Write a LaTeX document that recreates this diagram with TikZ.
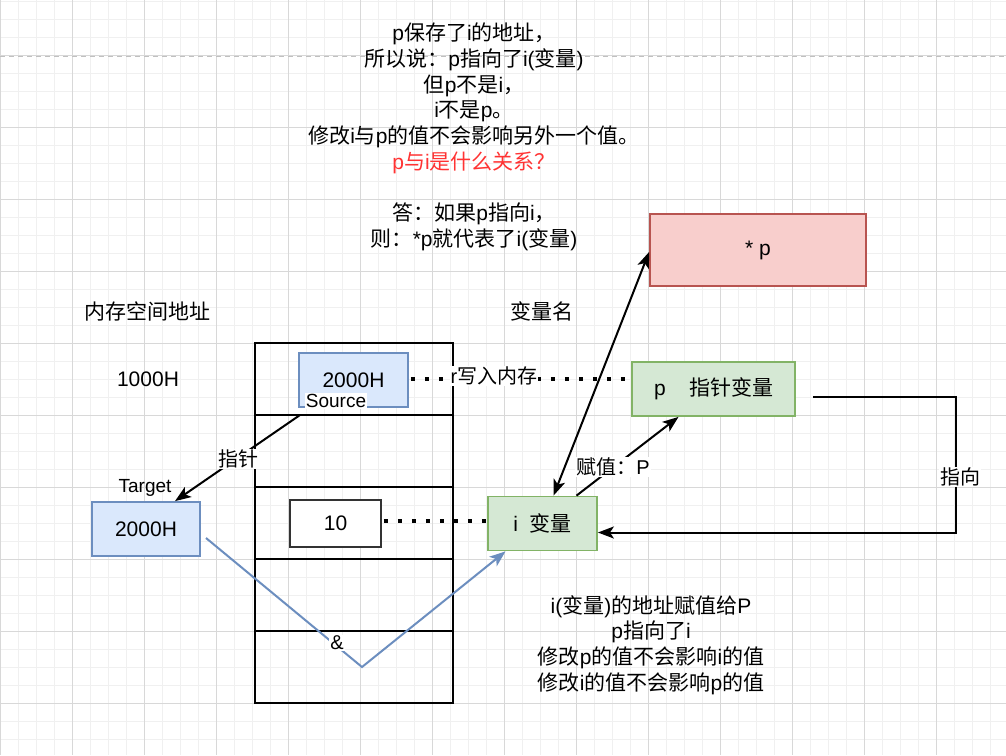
\documentclass[tikz,border=0pt]{standalone}
\usepackage{fontspec}
\setmainfont{Liberation Sans}
\newfontfamily\cjk{Noto Sans CJK SC}
\newcommand\zh[1]{{\cjk #1}}
\usetikzlibrary{arrows.meta,calc}
\definecolor{bluefill}{HTML}{DAE8FC}
\definecolor{bluedraw}{HTML}{6C8EBF}
\definecolor{greenfill}{HTML}{D5E8D4}
\definecolor{greendraw}{HTML}{82B366}
\definecolor{redfill}{HTML}{F8CECC}
\definecolor{reddraw}{HTML}{B85450}
\definecolor{gminorc}{HTML}{F0F0F0}
\definecolor{gmajorc}{HTML}{D8D8D8}
\definecolor{pagedash}{HTML}{C0C0C0}
\definecolor{qred}{HTML}{FF3333}
\definecolor{tenborder}{HTML}{333333}
\begin{document}
\begin{tikzpicture}[x=1pt,y=-1pt,
  txt/.style={font=\fontsize{21}{25.75}\selectfont, inner sep=0pt},
  small/.style={font=\fontsize{19}{23}\selectfont, inner sep=0pt},
  cell/.style={draw=black, line width=2.2pt, minimum width=198pt, minimum height=72pt, inner sep=0pt},
  bluebox/.style={draw=bluedraw, fill=bluefill, line width=1.8pt, inner sep=0pt, minimum width=109pt, minimum height=54pt, font=\fontsize{21}{25}\selectfont},
  greenbox/.style={draw=greendraw, fill=greenfill, line width=1.8pt, inner sep=0pt, minimum height=54pt, font=\fontsize{21}{25}\selectfont},
  lbl/.style={fill=white, inner sep=1pt, font=\fontsize{20}{24}\selectfont},
  conn/.style={draw=black, line width=2pt},
  tip/.style={-{Stealth[length=16pt,width=12pt,inset=4pt]}},
  dots/.style={draw=black, line width=4pt, dash pattern=on 4pt off 10pt}
]
\useasboundingbox (0,0) rectangle (1006,755);
\fill[white] (0,0) rectangle (1006,755);
% grid
\foreach \i in {0,...,56} \draw[gminorc, line width=1pt] (\i*18,0) -- (\i*18,755);
\foreach \j in {0,...,42} \draw[gminorc, line width=1pt] (0,1+\j*18) -- (1006,1+\j*18);
\foreach \i in {0,...,14} \draw[gmajorc, line width=1pt] (\i*72,0) -- (\i*72,755);
\foreach \j in {0,...,9} \draw[gmajorc, line width=1pt] (0,55+\j*72) -- (1006,55+\j*72);
\coordinate (pl) at (0,56);
\coordinate (pr) at (1006,56);
\draw[pagedash, line width=1pt, dash pattern=on 5pt off 4pt] (pl) -- (pr);

% top text
\node[txt, align=center] (top) at (474,137) {%
p\zh{保存了}i\zh{的地址，}\\
\zh{所以说：}p\zh{指向了}i(\zh{变量})\\
\zh{但}p\zh{不是}i\zh{，}\\
i\zh{不是}p\zh{。}\\
\zh{修改}i\zh{与}p\zh{的值不会影响另外一个值。}\\
\textcolor{qred}{p\zh{与}i\zh{是什么关系？}}\\[25.75pt]
\zh{答：如果}p\zh{指向}i\zh{，}\\
\zh{则：}*p\zh{就代表了}i(\zh{变量})};

% headings
\node[txt] (memh) at (147,311) {\zh{内存空间地址}};
\node[txt] (varh) at (542,311) {\zh{变量名}};
\node[txt] (addr) at (148,379) {1000H};

% memory cells
\node[cell] (c1) at (354,379) {};
\node[cell] (c2) at (354,451) {};
\node[cell] (c3) at (354,523) {};
\node[cell] (c4) at (354,595) {};
\node[cell] (c5) at (354,667) {};

% boxes
\node[bluebox] (src) at (353.5,380) {2000H};
\node[small, fill=white, inner sep=1pt] (srcl) at (336,401) {Source};
\node[draw=tenborder, fill=white, line width=1.8pt, minimum width=91pt, minimum height=47pt, inner sep=0pt, font=\fontsize{21}{25}\selectfont] (ten) at (335.5,523.5) {10};
\node[bluebox, minimum width=108pt] (tgt) at (146,529) {2000H};
\node[small] (tgtl) at (145,488) {Target};
\node[greenbox, minimum width=109pt] (ivar) at (542.5,523.5) {i~~\zh{变量}};
\node[greenbox, minimum width=163pt] (pvar) at (713.5,389) {p~~~~\zh{指针变量}};
\node[draw=reddraw, fill=redfill, line width=1.8pt, minimum width=216pt, minimum height=72pt, inner sep=0pt, font=\fontsize{21}{25}\selectfont] (star) at (758,250) {* p};

% dotted connectors
\draw[dots] ($(src.east)+(2,-1)$) -- ($(src.east -| pvar.west)+(0,-1)$);
\draw[dots] ($(ten.east)+(2,-3)$) -- ($(ten.east -| ivar.west)+(0,-3)$);

% pointer arrow
\coordinate (s1) at (300,415);
\draw[conn, tip] (s1) -- ($(tgt.north)+(29,0)$);

% blue & path
\coordinate (b0) at (206,538);
\coordinate (b1) at (362,667);
\draw[draw=bluedraw, line width=2pt, -{Stealth[length=16pt,width=12pt,inset=4pt]}] (b0) -- (b1) -- ($(ivar.south)+(-37,0)$);

% i <-> *p
\draw[conn, {Stealth[length=16pt,width=12pt,inset=4pt]}-{Stealth[length=16pt,width=12pt,inset=4pt]}] ($(ivar.north)+(11,0)$) -- ($(star.west)+(0,2)$);

% i -> p
\draw[conn, tip] ($(ivar.north)+(34,0)$) -- ($(pvar.south)+(-35,0)$);

% p -> i (right loop)
\coordinate (r0) at ($(pvar.east)+(17,8)$);
\coordinate (r1) at (956,397);
\coordinate (r2) at (956,532.5);
\draw[conn, tip] (r0) -- (r1) -- (r2) -- ($(ivar.east)+(0,9)$);

% labels
\node[lbl] (wl) at (494,376) {r\zh{写入内存}};
\node[lbl] (zl) at (238,459) {\zh{指针}};
\node[lbl] (al) at (337,643) {\&};
\node[lbl] (fl) at (613,467) {\zh{赋值：}P};
\node[lbl] (dl) at (960,477) {\zh{指向}};

% bottom text
\node[txt, align=center] (bot) at (651,645) {%
i(\zh{变量})\zh{的地址赋值给}P\\
p\zh{指向了}i\\
\zh{修改}p\zh{的值不会影响}i\zh{的值}\\
\zh{修改}i\zh{的值不会影响}p\zh{的值}};
\end{tikzpicture}
\end{document}
